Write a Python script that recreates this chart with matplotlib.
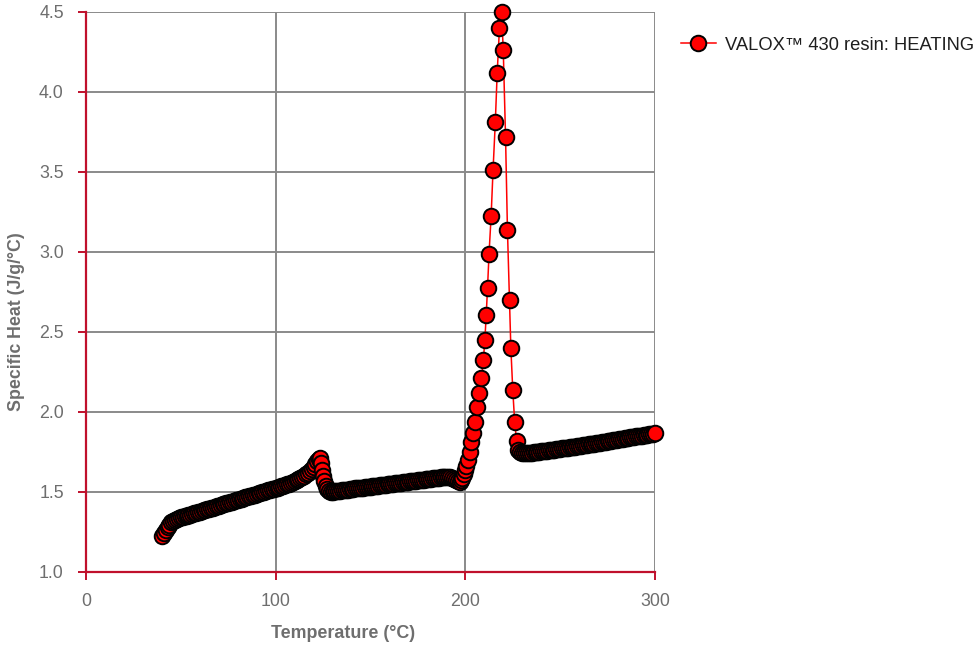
import matplotlib
matplotlib.use("Agg")
import matplotlib.pyplot as plt

plt.rcParams['font.family'] = ['Liberation Sans', 'DejaVu Sans']

# --- data (Temperature in °C, Cp in J/g/°C) ---
# slow rise up to the first small peak
temp_rise = [40, 41, 42, 43, 44, 45, 46, 47, 48, 49, 50, 51, 52, 53, 54, 55, 56, 57, 58, 59,
             60, 61, 62, 63, 64, 65, 66, 67, 68, 69, 70, 71, 72, 73, 74, 75, 76, 77, 78, 79,
             80, 81, 82, 83, 84, 85, 86, 87, 88, 89, 90, 91, 92, 93, 94, 95, 96, 97, 98, 99,
             100, 101, 102, 103, 104, 105, 106, 107, 108, 109, 110, 111, 112, 113, 114, 115,
             116, 117, 118, 119, 120, 121, 122]
cp_rise = [1.225, 1.242, 1.26, 1.279, 1.296, 1.31, 1.321, 1.328, 1.333, 1.337, 1.341, 1.345,
           1.348, 1.352, 1.355, 1.359, 1.363, 1.366, 1.37, 1.374, 1.378, 1.381, 1.385, 1.389,
           1.392, 1.396, 1.4, 1.403, 1.407, 1.411, 1.414, 1.418, 1.422, 1.425, 1.429, 1.433,
           1.436, 1.44, 1.444, 1.447, 1.451, 1.455, 1.458, 1.462, 1.466, 1.469, 1.473, 1.477,
           1.48, 1.484, 1.488, 1.491, 1.495, 1.499, 1.502, 1.506, 1.51, 1.513, 1.517, 1.521,
           1.524, 1.528, 1.532, 1.536, 1.54, 1.544, 1.548, 1.553, 1.558, 1.563, 1.568, 1.574,
           1.58, 1.587, 1.594, 1.602, 1.611, 1.621, 1.632, 1.645, 1.659, 1.675, 1.693]

# small peak and drop
temp_step = [122.8, 123.4, 123.9, 124.4, 124.9, 125.5, 126.3, 127.2, 128.2, 129.2]
cp_step = [1.708, 1.712, 1.68, 1.64, 1.60, 1.566, 1.538, 1.518, 1.507, 1.503]

# plateau before melting
temp_flat = [130, 131, 132, 133, 134, 135, 136, 137, 138, 139, 140, 141, 142, 143, 144, 145,
             146, 147, 148, 149, 150, 151, 152, 153, 154, 155, 156, 157, 158, 159, 160, 161,
             162, 163, 164, 165, 166, 167, 168, 169, 170, 171, 172, 173, 174, 175, 176, 177,
             178, 179, 180, 181, 182, 183, 184, 185, 186, 187, 188, 189, 190, 191, 192, 193,
             194, 195, 196]
cp_flat = [1.503, 1.505, 1.506, 1.508, 1.509, 1.511, 1.512, 1.514, 1.515, 1.517, 1.518, 1.52,
           1.522, 1.523, 1.525, 1.526, 1.528, 1.529, 1.531, 1.532, 1.534, 1.535, 1.537, 1.539,
           1.54, 1.542, 1.543, 1.545, 1.546, 1.548, 1.549, 1.551, 1.552, 1.554, 1.556, 1.557,
           1.559, 1.56, 1.562, 1.563, 1.565, 1.566, 1.568, 1.569, 1.571, 1.573, 1.574, 1.576,
           1.577, 1.579, 1.58, 1.582, 1.583, 1.585, 1.586, 1.588, 1.589, 1.591, 1.592, 1.593,
           1.594, 1.594, 1.593, 1.59, 1.584, 1.576, 1.568]

# melting peak
temp_melt = [197, 197.8, 198.5, 199.2, 199.9, 200.6, 201.3, 202.2, 203.2, 204.3, 205.3, 206.4,
             207.4, 208.5, 209.5, 210.3, 211.0, 211.7, 212.5, 213.6, 214.6, 215.8, 216.8, 218.0,
             219.1, 220.0, 221.2, 222.2, 223.3, 224.0, 225.0, 226.0, 227.0, 228.0]
cp_melt = [1.565, 1.575, 1.59, 1.61, 1.635, 1.665, 1.70, 1.75, 1.81, 1.87, 1.94, 2.03,
           2.12, 2.21, 2.325, 2.45, 2.605, 2.775, 2.99, 3.225, 3.51, 3.81, 4.12, 4.40,
           4.50, 4.26, 3.72, 3.14, 2.70, 2.40, 2.14, 1.94, 1.82, 1.76]

# melt state
temp_melt_state = [229, 230, 231, 232, 233, 234, 235, 236, 237, 238, 239, 240, 241, 242, 243,
                   244, 245, 246, 247, 248, 249, 250, 251, 252, 253, 254, 255, 256, 257, 258,
                   259, 260, 261, 262, 263, 264, 265, 266, 267, 268, 269, 270, 271, 272, 273,
                   274, 275, 276, 277, 278, 279, 280, 281, 282, 283, 284, 285, 286, 287, 288,
                   289, 290, 291, 292, 293, 294, 295, 296, 297, 298, 299, 300]
cp_melt_state = [1.748, 1.744, 1.743, 1.743, 1.744, 1.745, 1.746, 1.748, 1.749, 1.751, 1.752,
                 1.754, 1.755, 1.757, 1.758, 1.76, 1.762, 1.763, 1.765, 1.767, 1.768, 1.77,
                 1.772, 1.773, 1.775, 1.777, 1.779, 1.78, 1.782, 1.784, 1.786, 1.788, 1.789,
                 1.791, 1.793, 1.795, 1.797, 1.799, 1.801, 1.803, 1.805, 1.807, 1.809, 1.811,
                 1.813, 1.815, 1.817, 1.819, 1.821, 1.823, 1.825, 1.827, 1.829, 1.831, 1.833,
                 1.835, 1.837, 1.839, 1.841, 1.843, 1.845, 1.847, 1.849, 1.851, 1.853, 1.855,
                 1.857, 1.859, 1.861, 1.862, 1.864, 1.866]

temperature = temp_rise + temp_step + temp_flat + temp_melt + temp_melt_state
specific_heat = cp_rise + cp_step + cp_flat + cp_melt + cp_melt_state

series_label = "VALOX™ 430 resin: HEATING"
x_ticks = [0, 100, 200, 300]
y_ticks = [1.0, 1.5, 2.0, 2.5, 3.0, 3.5, 4.0, 4.5]

axis_red = '#c0102c'
grid_grey = '#8a8a8a'
label_grey = '#6e6e6e'

fig = plt.figure(figsize=(9.75, 6.47), dpi=100)
ax = fig.add_axes([86 / 975, 1 - 572 / 647, (655 - 86) / 975, (572 - 12) / 647])

ax.plot(temperature, specific_heat, color='#ff0000', linewidth=1.1,
        marker='o', markersize=11.2, markerfacecolor='#ff0000',
        markeredgecolor='black', markeredgewidth=1.4,
        label=series_label, clip_on=False, zorder=3)

ax.set_xlim(0, 300)
ax.set_ylim(1.0, 4.5)
ax.set_xticks(x_ticks)
ax.set_yticks(y_ticks)
ax.set_yticklabels([f'{v:.1f}' for v in y_ticks])

ax.grid(True, color=grid_grey, linewidth=1.4)
ax.set_axisbelow(True)
for side in ['top', 'right']:
    ax.spines[side].set_visible(False)
for side in ['left', 'bottom']:
    ax.spines[side].set_color(axis_red)
    ax.spines[side].set_linewidth(1.6)
    ax.spines[side].set_zorder(2.5)

ax.tick_params(axis='both', colors=axis_red, labelcolor=label_grey,
               length=6, width=1.4, labelsize=12.8, direction='out')
ax.tick_params(axis='y', pad=10)
ax.tick_params(axis='x', pad=9)

fig.text(343 / 975, 1 - 634 / 647, 'Temperature (°C)', ha='center', va='center',
         fontsize=12.9, fontweight='bold', color=label_grey)
fig.text(17 / 975, 1 - 322 / 647, 'Specific Heat (J/g/°C)', ha='center', va='center',
         rotation=90, fontsize=12.8, fontweight='bold', color=label_grey)

leg = ax.legend(loc='center left', bbox_to_anchor=(681 / 975, 1 - 45 / 647),
                bbox_transform=fig.transFigure, frameon=False, fontsize=13.2,
                borderpad=0, borderaxespad=0, handlelength=1.9, handletextpad=0.5)
for t in leg.get_texts():
    t.set_color('#1e1e1e')

fig.savefig('out.png', dpi=100)
